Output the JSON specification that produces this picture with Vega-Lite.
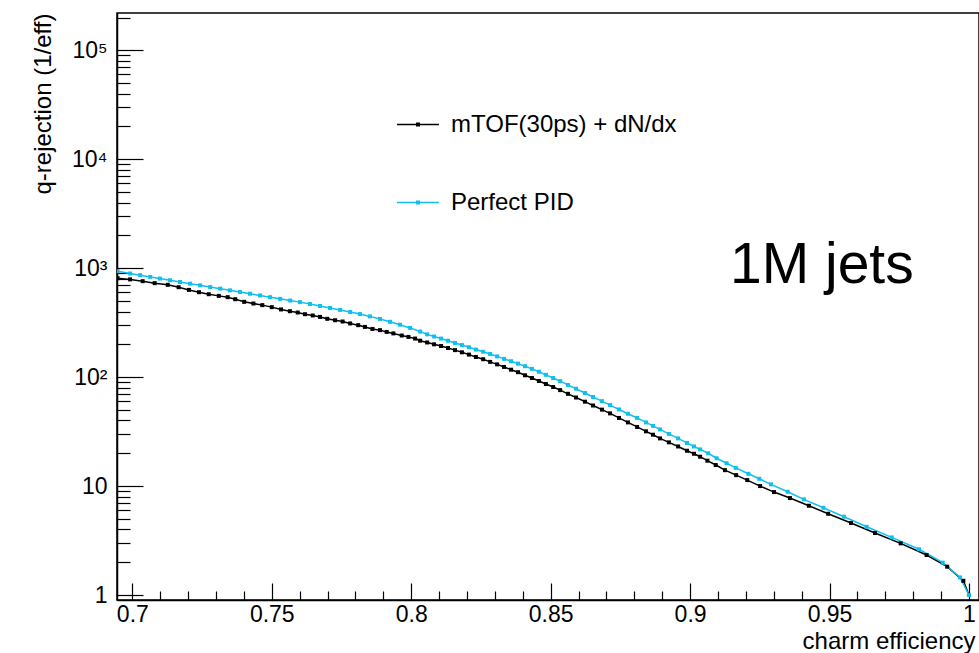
{
  "$schema": "https://vega.github.io/schema/vega-lite/v6.json",
  "width": 862,
  "height": 587,
  "autosize": {"type": "none"},
  "padding": {"left": 117, "top": 13, "right": 0, "bottom": 53},
  "background": "white",
  "config": {
    "view": {"stroke": "black", "strokeWidth": 1.5},
    "font": "Liberation Sans",
    "axis": {
      "domainColor": "black", "tickColor": "black", "labelColor": "black", "titleColor": "black",
      "grid": false, "labelFont": "Liberation Sans", "titleFont": "Liberation Sans",
      "labelFontSize": 23, "titleFontSize": 24, "titleFontWeight": "normal",
      "domainWidth": 1.5, "tickWidth": 1.2
    }
  },
  "datasets": {
    "curves": [
      {"series": "mTOF(30ps) + dN/dx", "eff": 0.6947, "rej": 809},
      {"series": "mTOF(30ps) + dN/dx", "eff": 0.6992, "rej": 789},
      {"series": "mTOF(30ps) + dN/dx", "eff": 0.7037, "rej": 760},
      {"series": "mTOF(30ps) + dN/dx", "eff": 0.7080, "rej": 729},
      {"series": "mTOF(30ps) + dN/dx", "eff": 0.7127, "rej": 703},
      {"series": "mTOF(30ps) + dN/dx", "eff": 0.7166, "rej": 669},
      {"series": "mTOF(30ps) + dN/dx", "eff": 0.7203, "rej": 632},
      {"series": "mTOF(30ps) + dN/dx", "eff": 0.7239, "rej": 602},
      {"series": "mTOF(30ps) + dN/dx", "eff": 0.7274, "rej": 577},
      {"series": "mTOF(30ps) + dN/dx", "eff": 0.7310, "rej": 557},
      {"series": "mTOF(30ps) + dN/dx", "eff": 0.7342, "rej": 542},
      {"series": "mTOF(30ps) + dN/dx", "eff": 0.7369, "rej": 519},
      {"series": "mTOF(30ps) + dN/dx", "eff": 0.7401, "rej": 491},
      {"series": "mTOF(30ps) + dN/dx", "eff": 0.7434, "rej": 474},
      {"series": "mTOF(30ps) + dN/dx", "eff": 0.7466, "rej": 458},
      {"series": "mTOF(30ps) + dN/dx", "eff": 0.7500, "rej": 439},
      {"series": "mTOF(30ps) + dN/dx", "eff": 0.7533, "rej": 418},
      {"series": "mTOF(30ps) + dN/dx", "eff": 0.7565, "rej": 403},
      {"series": "mTOF(30ps) + dN/dx", "eff": 0.7593, "rej": 392},
      {"series": "mTOF(30ps) + dN/dx", "eff": 0.7619, "rej": 378},
      {"series": "mTOF(30ps) + dN/dx", "eff": 0.7647, "rej": 368},
      {"series": "mTOF(30ps) + dN/dx", "eff": 0.7673, "rej": 357},
      {"series": "mTOF(30ps) + dN/dx", "eff": 0.7699, "rej": 343},
      {"series": "mTOF(30ps) + dN/dx", "eff": 0.7727, "rej": 333},
      {"series": "mTOF(30ps) + dN/dx", "eff": 0.7754, "rej": 324},
      {"series": "mTOF(30ps) + dN/dx", "eff": 0.7781, "rej": 311},
      {"series": "mTOF(30ps) + dN/dx", "eff": 0.7810, "rej": 300},
      {"series": "mTOF(30ps) + dN/dx", "eff": 0.7834, "rej": 289},
      {"series": "mTOF(30ps) + dN/dx", "eff": 0.7861, "rej": 277},
      {"series": "mTOF(30ps) + dN/dx", "eff": 0.7888, "rej": 270},
      {"series": "mTOF(30ps) + dN/dx", "eff": 0.7912, "rej": 260},
      {"series": "mTOF(30ps) + dN/dx", "eff": 0.7936, "rej": 252},
      {"series": "mTOF(30ps) + dN/dx", "eff": 0.7966, "rej": 241},
      {"series": "mTOF(30ps) + dN/dx", "eff": 0.7990, "rej": 234},
      {"series": "mTOF(30ps) + dN/dx", "eff": 0.8014, "rej": 226},
      {"series": "mTOF(30ps) + dN/dx", "eff": 0.8032, "rej": 216},
      {"series": "mTOF(30ps) + dN/dx", "eff": 0.8057, "rej": 208},
      {"series": "mTOF(30ps) + dN/dx", "eff": 0.8082, "rej": 200},
      {"series": "mTOF(30ps) + dN/dx", "eff": 0.8107, "rej": 193},
      {"series": "mTOF(30ps) + dN/dx", "eff": 0.8132, "rej": 185},
      {"series": "mTOF(30ps) + dN/dx", "eff": 0.8157, "rej": 177},
      {"series": "mTOF(30ps) + dN/dx", "eff": 0.8182, "rej": 169},
      {"series": "mTOF(30ps) + dN/dx", "eff": 0.8207, "rej": 161},
      {"series": "mTOF(30ps) + dN/dx", "eff": 0.8232, "rej": 153},
      {"series": "mTOF(30ps) + dN/dx", "eff": 0.8258, "rej": 146},
      {"series": "mTOF(30ps) + dN/dx", "eff": 0.8283, "rej": 138},
      {"series": "mTOF(30ps) + dN/dx", "eff": 0.8308, "rej": 131},
      {"series": "mTOF(30ps) + dN/dx", "eff": 0.8333, "rej": 124},
      {"series": "mTOF(30ps) + dN/dx", "eff": 0.8358, "rej": 117},
      {"series": "mTOF(30ps) + dN/dx", "eff": 0.8383, "rej": 111},
      {"series": "mTOF(30ps) + dN/dx", "eff": 0.8408, "rej": 104},
      {"series": "mTOF(30ps) + dN/dx", "eff": 0.8433, "rej": 98.1},
      {"series": "mTOF(30ps) + dN/dx", "eff": 0.8458, "rej": 92.1},
      {"series": "mTOF(30ps) + dN/dx", "eff": 0.8483, "rej": 86.4},
      {"series": "mTOF(30ps) + dN/dx", "eff": 0.8509, "rej": 81.1},
      {"series": "mTOF(30ps) + dN/dx", "eff": 0.8534, "rej": 76.0},
      {"series": "mTOF(30ps) + dN/dx", "eff": 0.8562, "rej": 70.3},
      {"series": "mTOF(30ps) + dN/dx", "eff": 0.8591, "rej": 65.0},
      {"series": "mTOF(30ps) + dN/dx", "eff": 0.8623, "rej": 59.5},
      {"series": "mTOF(30ps) + dN/dx", "eff": 0.8652, "rej": 54.9},
      {"series": "mTOF(30ps) + dN/dx", "eff": 0.8684, "rej": 50.3},
      {"series": "mTOF(30ps) + dN/dx", "eff": 0.8713, "rej": 46.5},
      {"series": "mTOF(30ps) + dN/dx", "eff": 0.8745, "rej": 42.2},
      {"series": "mTOF(30ps) + dN/dx", "eff": 0.8777, "rej": 38.4},
      {"series": "mTOF(30ps) + dN/dx", "eff": 0.8810, "rej": 34.9},
      {"series": "mTOF(30ps) + dN/dx", "eff": 0.8842, "rej": 31.8},
      {"series": "mTOF(30ps) + dN/dx", "eff": 0.8867, "rej": 29.6},
      {"series": "mTOF(30ps) + dN/dx", "eff": 0.8892, "rej": 27.4},
      {"series": "mTOF(30ps) + dN/dx", "eff": 0.8924, "rej": 25.2},
      {"series": "mTOF(30ps) + dN/dx", "eff": 0.8957, "rej": 23.1},
      {"series": "mTOF(30ps) + dN/dx", "eff": 0.8989, "rej": 21.1},
      {"series": "mTOF(30ps) + dN/dx", "eff": 0.9014, "rej": 19.8},
      {"series": "mTOF(30ps) + dN/dx", "eff": 0.9036, "rej": 18.6},
      {"series": "mTOF(30ps) + dN/dx", "eff": 0.9062, "rej": 17.1},
      {"series": "mTOF(30ps) + dN/dx", "eff": 0.9092, "rej": 15.6},
      {"series": "mTOF(30ps) + dN/dx", "eff": 0.9125, "rej": 14.0},
      {"series": "mTOF(30ps) + dN/dx", "eff": 0.9165, "rej": 12.6},
      {"series": "mTOF(30ps) + dN/dx", "eff": 0.9205, "rej": 11.35},
      {"series": "mTOF(30ps) + dN/dx", "eff": 0.9251, "rej": 10.0},
      {"series": "mTOF(30ps) + dN/dx", "eff": 0.9301, "rej": 8.81},
      {"series": "mTOF(30ps) + dN/dx", "eff": 0.9358, "rej": 7.76},
      {"series": "mTOF(30ps) + dN/dx", "eff": 0.9426, "rej": 6.60},
      {"series": "mTOF(30ps) + dN/dx", "eff": 0.9495, "rej": 5.57},
      {"series": "mTOF(30ps) + dN/dx", "eff": 0.9577, "rej": 4.58},
      {"series": "mTOF(30ps) + dN/dx", "eff": 0.9663, "rej": 3.71},
      {"series": "mTOF(30ps) + dN/dx", "eff": 0.9755, "rej": 2.98},
      {"series": "mTOF(30ps) + dN/dx", "eff": 0.9848, "rej": 2.33},
      {"series": "mTOF(30ps) + dN/dx", "eff": 0.9922, "rej": 1.82},
      {"series": "mTOF(30ps) + dN/dx", "eff": 0.9980, "rej": 1.35},
      {"series": "mTOF(30ps) + dN/dx", "eff": 1.0, "rej": 1.0},
      {"series": "Perfect PID", "eff": 0.6947, "rej": 938},
      {"series": "Perfect PID", "eff": 0.6992, "rej": 894},
      {"series": "Perfect PID", "eff": 0.7028, "rej": 863},
      {"series": "Perfect PID", "eff": 0.7064, "rej": 832},
      {"series": "Perfect PID", "eff": 0.7099, "rej": 803},
      {"series": "Perfect PID", "eff": 0.7135, "rej": 775},
      {"series": "Perfect PID", "eff": 0.7171, "rej": 747},
      {"series": "Perfect PID", "eff": 0.7207, "rej": 721},
      {"series": "Perfect PID", "eff": 0.7243, "rej": 696},
      {"series": "Perfect PID", "eff": 0.7279, "rej": 671},
      {"series": "Perfect PID", "eff": 0.7315, "rej": 649},
      {"series": "Perfect PID", "eff": 0.7350, "rej": 626},
      {"series": "Perfect PID", "eff": 0.7386, "rej": 604},
      {"series": "Perfect PID", "eff": 0.7422, "rej": 583},
      {"series": "Perfect PID", "eff": 0.7458, "rej": 562},
      {"series": "Perfect PID", "eff": 0.7494, "rej": 542},
      {"series": "Perfect PID", "eff": 0.7530, "rej": 523},
      {"series": "Perfect PID", "eff": 0.7566, "rej": 505},
      {"series": "Perfect PID", "eff": 0.7601, "rej": 488},
      {"series": "Perfect PID", "eff": 0.7637, "rej": 469},
      {"series": "Perfect PID", "eff": 0.7673, "rej": 450},
      {"series": "Perfect PID", "eff": 0.7709, "rej": 431},
      {"series": "Perfect PID", "eff": 0.7745, "rej": 414},
      {"series": "Perfect PID", "eff": 0.7781, "rej": 396},
      {"series": "Perfect PID", "eff": 0.7816, "rej": 379},
      {"series": "Perfect PID", "eff": 0.7852, "rej": 361},
      {"series": "Perfect PID", "eff": 0.7888, "rej": 342},
      {"series": "Perfect PID", "eff": 0.7924, "rej": 322},
      {"series": "Perfect PID", "eff": 0.7960, "rej": 303},
      {"series": "Perfect PID", "eff": 0.7996, "rej": 283},
      {"series": "Perfect PID", "eff": 0.8032, "rej": 262},
      {"series": "Perfect PID", "eff": 0.8057, "rej": 247},
      {"series": "Perfect PID", "eff": 0.8082, "rej": 236},
      {"series": "Perfect PID", "eff": 0.8107, "rej": 226},
      {"series": "Perfect PID", "eff": 0.8132, "rej": 216},
      {"series": "Perfect PID", "eff": 0.8157, "rej": 206},
      {"series": "Perfect PID", "eff": 0.8182, "rej": 197},
      {"series": "Perfect PID", "eff": 0.8207, "rej": 188},
      {"series": "Perfect PID", "eff": 0.8232, "rej": 179},
      {"series": "Perfect PID", "eff": 0.8258, "rej": 171},
      {"series": "Perfect PID", "eff": 0.8283, "rej": 163},
      {"series": "Perfect PID", "eff": 0.8308, "rej": 155},
      {"series": "Perfect PID", "eff": 0.8333, "rej": 147},
      {"series": "Perfect PID", "eff": 0.8358, "rej": 140},
      {"series": "Perfect PID", "eff": 0.8383, "rej": 133},
      {"series": "Perfect PID", "eff": 0.8408, "rej": 126},
      {"series": "Perfect PID", "eff": 0.8433, "rej": 119},
      {"series": "Perfect PID", "eff": 0.8458, "rej": 112},
      {"series": "Perfect PID", "eff": 0.8483, "rej": 105},
      {"series": "Perfect PID", "eff": 0.8509, "rej": 98.1},
      {"series": "Perfect PID", "eff": 0.8534, "rej": 91.9},
      {"series": "Perfect PID", "eff": 0.8562, "rej": 84.8},
      {"series": "Perfect PID", "eff": 0.8591, "rej": 78.3},
      {"series": "Perfect PID", "eff": 0.8623, "rej": 71.5},
      {"series": "Perfect PID", "eff": 0.8652, "rej": 65.7},
      {"series": "Perfect PID", "eff": 0.8684, "rej": 60.2},
      {"series": "Perfect PID", "eff": 0.8713, "rej": 55.4},
      {"series": "Perfect PID", "eff": 0.8745, "rej": 50.5},
      {"series": "Perfect PID", "eff": 0.8777, "rej": 46.1},
      {"series": "Perfect PID", "eff": 0.8810, "rej": 42.2},
      {"series": "Perfect PID", "eff": 0.8842, "rej": 38.4},
      {"series": "Perfect PID", "eff": 0.8867, "rej": 35.7},
      {"series": "Perfect PID", "eff": 0.8892, "rej": 33.1},
      {"series": "Perfect PID", "eff": 0.8924, "rej": 30.1},
      {"series": "Perfect PID", "eff": 0.8957, "rej": 27.4},
      {"series": "Perfect PID", "eff": 0.8989, "rej": 24.9},
      {"series": "Perfect PID", "eff": 0.9014, "rej": 23.1},
      {"series": "Perfect PID", "eff": 0.9036, "rej": 21.7},
      {"series": "Perfect PID", "eff": 0.9065, "rej": 20.0},
      {"series": "Perfect PID", "eff": 0.9095, "rej": 18.0},
      {"series": "Perfect PID", "eff": 0.9131, "rej": 16.2},
      {"series": "Perfect PID", "eff": 0.9164, "rej": 14.7},
      {"series": "Perfect PID", "eff": 0.9209, "rej": 12.97},
      {"series": "Perfect PID", "eff": 0.9248, "rej": 11.67},
      {"series": "Perfect PID", "eff": 0.9290, "rej": 10.37},
      {"series": "Perfect PID", "eff": 0.9350, "rej": 8.87},
      {"series": "Perfect PID", "eff": 0.9408, "rej": 7.55},
      {"series": "Perfect PID", "eff": 0.9478, "rej": 6.32},
      {"series": "Perfect PID", "eff": 0.9552, "rej": 5.23},
      {"series": "Perfect PID", "eff": 0.9633, "rej": 4.23},
      {"series": "Perfect PID", "eff": 0.9723, "rej": 3.38},
      {"series": "Perfect PID", "eff": 0.9821, "rej": 2.63},
      {"series": "Perfect PID", "eff": 0.9906, "rej": 1.98},
      {"series": "Perfect PID", "eff": 0.9968, "rej": 1.45},
      {"series": "Perfect PID", "eff": 1.0, "rej": 1.0}
    ]
  },
  "layer": [
    {
      "data": {"name": "curves"},
      "mark": {"type": "line", "strokeWidth": 1.5, "clip": true},
      "encoding": {
        "x": {
          "field": "eff", "type": "quantitative",
          "scale": {"domain": [0.6945, 1.0036], "nice": false, "zero": false},
          "axis": {
            "orient": "bottom",
            "values": [0.7, 0.75, 0.8, 0.85, 0.9, 0.95, 1],
            "format": ".2~f",
            "tickSize": -17,
            "labelPadding": 20,
            "title": "charm efficiency",
            "titleX": 858, "titleY": 48,
            "titleAlign": "right", "titleBaseline": "alphabetic", "titleAnchor": "end"
          }
        },
        "y": {
          "field": "rej", "type": "quantitative",
          "scale": {"type": "log", "domain": [0.9, 220000], "nice": false},
          "axis": {
            "orient": "left",
            "values": [1, 10, 100, 1000, 10000, 100000],
            "labelExpr": "datum.value == 1 ? '1' : datum.value == 10 ? '10' : datum.value == 100 ? '10²' : datum.value == 1000 ? '10³' : datum.value == 10000 ? '10⁴' : '10⁵'",
            "tickSize": -26,
            "labelPadding": 36,
            "title": "q-rejection (1/eff)",
            "titleAngle": -90,
            "titleX": -67, "titleY": 0,
            "titleAlign": "right", "titleBaseline": "alphabetic", "titleAnchor": "end"
          }
        },
        "color": {
          "field": "series", "type": "nominal",
          "scale": {"domain": ["mTOF(30ps) + dN/dx", "Perfect PID"], "range": ["#000000", "#10bff0"]},
          "legend": {
            "orient": "none", "legendX": 279, "legendY": 89.5,
            "title": null,
            "symbolType": "M-1,0L1,0M-0.06,-0.06L0.06,-0.06L0.06,0.06L-0.06,0.06Z",
            "symbolSize": 1764,
            "symbolStrokeWidth": 1.5,
            "labelFontSize": 24,
            "labelFont": "Liberation Sans",
            "labelColor": "black",
            "labelLimit": 0,
            "labelOffset": 11,
            "rowPadding": 44,
            "padding": 0
          }
        }
      }
    },
    {
      "data": {"name": "curves"},
      "mark": {"type": "point", "shape": "square", "filled": true, "size": 16, "opacity": 1, "clip": true},
      "encoding": {
        "x": {
          "field": "eff", "type": "quantitative",
          "axis": {
            "orient": "bottom",
            "values": [0.71, 0.72, 0.73, 0.74, 0.76, 0.77, 0.78, 0.79, 0.81, 0.82, 0.83, 0.84, 0.86, 0.87, 0.88, 0.89, 0.91, 0.92, 0.93, 0.94, 0.96, 0.97, 0.98, 0.99],
            "tickSize": -9, "labels": false, "domain": false, "title": null
          }
        },
        "y": {
          "field": "rej", "type": "quantitative",
          "axis": {
            "orient": "left",
            "values": [2, 3, 4, 5, 6, 7, 8, 9, 20, 30, 40, 50, 60, 70, 80, 90, 200, 300, 400, 500, 600, 700, 800, 900, 2000, 3000, 4000, 5000, 6000, 7000, 8000, 9000, 20000, 30000, 40000, 50000, 60000, 70000, 80000, 90000, 200000],
            "tickSize": -13, "labels": false, "domain": false, "title": null
          }
        },
        "color": {"field": "series", "type": "nominal"}
      }
    },
    {
      "data": {"values": [{}]},
      "mark": {"type": "text", "text": "1M jets", "fontSize": 57, "font": "Liberation Sans", "align": "left", "baseline": "alphabetic", "color": "black"},
      "encoding": {
        "x": {"datum": 0.9143, "type": "quantitative", "axis": null},
        "y": {"datum": 728, "type": "quantitative", "axis": null}
      }
    }
  ],
  "resolve": {"axis": {"x": "independent", "y": "independent"}}
}
